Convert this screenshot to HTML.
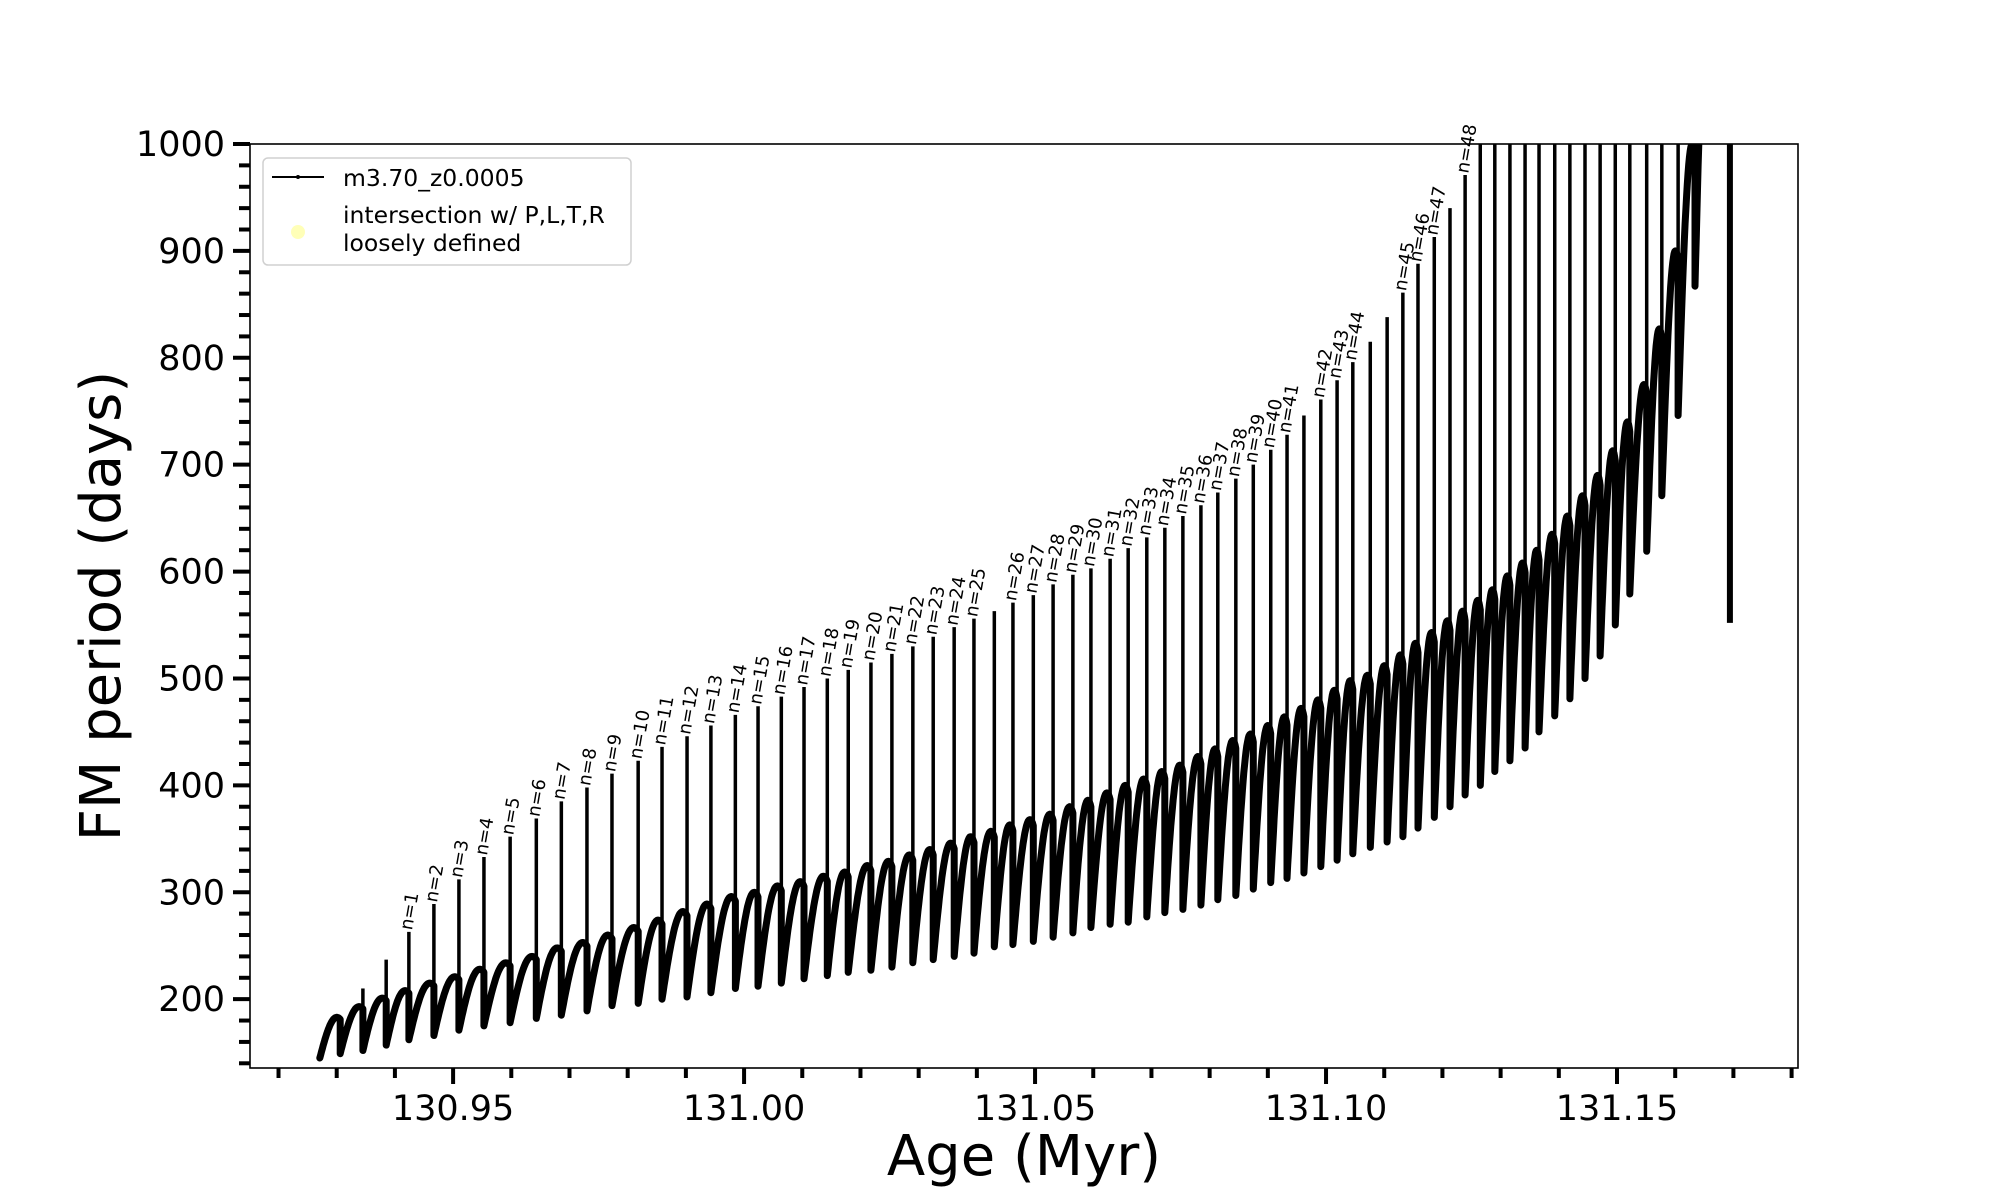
<!DOCTYPE html>
<html><head><meta charset="utf-8">
<style>
html,body{margin:0;padding:0;background:#fff;}
svg{display:block;font-family:"DejaVu Sans","Liberation Sans",sans-serif;}
</style></head>
<body>
<svg id="chart" width="2000" height="1200" viewBox="0 0 2000 1200">
<defs><clipPath id="plotclip"><rect x="250" y="144" width="1548" height="924"/></clipPath></defs>
<rect x="0" y="0" width="2000" height="1200" fill="#fff"/>
<g id="series" clip-path="url(#plotclip)"></g>
<g id="labels"></g>
<rect x="250" y="144" width="1548" height="924" fill="none" stroke="#000" stroke-width="1.6"/>
<g id="xticks"></g>
<g id="yticks"></g>
<text x="1024" y="1175" font-size="56" text-anchor="middle">Age (Myr)</text>
<text x="0" y="0" font-size="56" text-anchor="middle" transform="translate(120,606) rotate(-90)">FM period (days)</text>
<g>
<rect x="263" y="158" width="368" height="107" rx="5" fill="#fff" fill-opacity="0.8" stroke="#d0d0d0" stroke-width="1.5"/>
<line x1="272" y1="177" x2="324" y2="177" stroke="#000" stroke-width="2"/>
<circle cx="298" cy="177" r="2" fill="#000"/>
<text x="343" y="186" font-size="23.5">m3.70_z0.0005</text>
<circle cx="298" cy="232" r="7" fill="#ffffb8"/>
<text x="343" y="223" font-size="23.5">intersection w/ P,L,T,R</text>
<text x="343" y="251" font-size="23.5">loosely defined</text>
</g>
</svg>
<script>
const ages = [130.9271,130.9306,130.9345,130.9385,130.9424,130.9467,130.9510,130.9553,130.9598,130.9643,
130.9686,130.9730,130.9773,130.9818,130.9859,130.9902,130.9943,130.9985,131.0024,131.0064,
131.0103,131.0143,131.0179,131.0218,131.0254,131.0290,131.0325,131.0361,131.0395,131.0430,
131.0462,131.0497,131.0531,131.0565,131.0596,131.0629,131.0660,131.0692,131.0723,131.0754,
131.0785,131.0814,131.0845,131.0875,131.0905,131.0933,131.0962,131.0991,131.1019,131.1046,
131.1076,131.1105,131.1132,131.1158,131.1186,131.1213,131.1239,131.1265,131.1290,131.1316,
131.1342,131.1366,131.1393,131.1419,131.1445,131.1471,131.1497,131.1522,131.1551,131.1577,
131.1605,131.1634,131.1660];
const dips = [145,149,152,157,162,166,171,175,178,182,
185,189,194,196,200,202,206,210,212,215,
219,222,225,227,230,234,237,240,243,249,
251,254,258,262,267,270,272,277,281,284,
288,293,297,303,309,313,318,324,330,336,
342,347,352,360,370,380,391,400,413,423,
435,450,465,481,500,521,550,579,619,671,
746,867];
const spikes = [null,null,210,237,263,289,312,333,352,369,
385,398,411,423,436,446,456,466,474,483,
492,500,508,515,523,530,539,548,556,563,
571,578,588,597,603,612,622,632,641,652,
662,674,687,700,714,728,746,761,779,796,
815,838,861,888,913,940,971,1100,1100,1100,
1100,1100,1100,1100,1100,1100,1100,1100,1100,1100,
1100,1100];
const peaks = [183,193,201,208,215,221,228,234,240,248,
253,260,267,274,282,289,296,300,306,310,
315,319,325,329,335,340,346,352,357,363,
368,373,380,386,393,400,406,413,419,427,
434,442,448,456,464,472,480,489,498,503,
512,522,533,543,554,563,573,583,596,608,
620,635,652,671,690,713,740,775,827,900,
1000,1160];
const labelLine = [4,5,6,7,8,9,10,11,12,13,14,15,16,17,18,19,20,21,22,23,24,25,26,27,28,
30,31,32,33,34,35,36,37,38,39,40,41,42,43,44,45,47,48,49,52,53,54,56];
const labelN = [1,2,3,4,5,6,7,8,9,10,11,12,13,14,15,16,17,18,19,20,21,22,23,24,25,
26,27,28,29,30,31,32,33,34,35,36,37,38,39,40,41,42,43,44,45,46,47,48];
const finalAge = [131.1694];
const finalRange = [552, 1000];
const xTickVals = [130.95,131.00,131.05,131.10,131.15];
const xTickLabels = ['130.95','131.00','131.05','131.10','131.15'];
const yTickVals = [200,300,400,500,600,700,800,900,1000];
const yTickLabels = ['200','300','400','500','600','700','800','900','1000'];

const NS='http://www.w3.org/2000/svg';
const X0=250,X1=1798,Y0=144,Y1=1068, AMIN=130.9151, AMAX=131.1811, VMIN=135.6, VMAX=1000;
function X(a){return X0+(a-AMIN)/(AMAX-AMIN)*(X1-X0);}
function Y(v){return Y0+(VMAX-v)/(VMAX-VMIN)*(Y1-Y0);}
function mk(tag,attrs,parent){const e=document.createElementNS(NS,tag);for(const k in attrs)e.setAttribute(k,attrs[k]);parent.appendChild(e);return e;}

const series=document.getElementById('series');
for(let i=0;i<dips.length;i++){
  if(spikes[i]!==null){
    const l=mk('line',{x1:X(ages[i]),y1:Y(dips[i]),x2:X(ages[i]),y2:Y(spikes[i]),stroke:'#000','stroke-width':3.5},series);
    
    
  }
}
let d='';
for(let i=0;i<dips.length;i++){
  const a0=ages[i],a1=ages[i+1];
  for(let k=0;k<=24;k++){
    const t=k/24;
    const f=Math.sin(0.6*Math.PI*t);
    const v=dips[i]+(peaks[i]-dips[i])*f;
    d+=(d===''?'M':'L')+X(a0+(a1-a0)*t).toFixed(1)+' '+Y(v).toFixed(1);
  }
}
const curve=mk('path',{d:d,fill:'none',stroke:'#000','stroke-width':7,'stroke-linejoin':'round','stroke-linecap':'round'},series);


const fin=mk('line',{x1:X(finalAge[0]),y1:Y(finalRange[0]),x2:X(finalAge[0]),y2:Y(finalRange[1]),stroke:'#000','stroke-width':6},series);



const lg=document.getElementById('labels');
for(let j=0;j<labelLine.length;j++){
  const i=labelLine[j];
  const x=X(ages[i])+3, y=Y(spikes[i])-1;
  const t=mk('text',{x:0,y:0,'font-size':18,transform:'translate('+x.toFixed(1)+','+y.toFixed(1)+') rotate(-80)'},lg);
  t.textContent='n='+labelN[j];
  
  
}

const xg=document.getElementById('xticks');
for(let k=0;k<=26;k++){
  const a=130.92+k*0.01; const major=((k-3)%5===0);
  const tk=mk('line',{x1:X(a),y1:Y1,x2:X(a),y2:Y1+(major?16:10),stroke:'#000','stroke-width':4},xg);
  
  
}
for(let j=0;j<xTickVals.length;j++){
  const t=mk('text',{x:X(xTickVals[j]),y:1120,'font-size':35,'text-anchor':'middle'},xg);
  t.textContent=xTickLabels[j];
  
  
}
const yg=document.getElementById('yticks');
for(let k=0;k<=43;k++){
  const v=140+k*20; const major=(v%100===0);
  const tk=mk('line',{x1:X0,y1:Y(v),x2:X0-(major?17:11),y2:Y(v),stroke:'#000','stroke-width':4},yg);
  
  
}
for(let j=0;j<yTickVals.length;j++){
  const t=mk('text',{x:225,y:Y(yTickVals[j])+12,'font-size':35,'text-anchor':'end'},yg);
  t.textContent=yTickLabels[j];
  
  
}
</script>
</body></html>
